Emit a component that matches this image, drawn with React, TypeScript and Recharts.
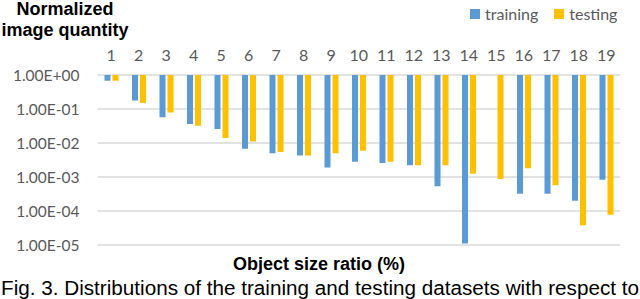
import React from 'react';
import { BarChart, Bar, XAxis, YAxis, CartesianGrid } from 'recharts';

const categories = ['1','2','3','4','5','6','7','8','9','10','11','12','13','14','15','16','17','18','19'];
const training: (number | null)[] = [0.68, 0.178, 0.057, 0.036, 0.026, 0.0068, 0.005, 0.0043, 0.0019, 0.0028, 0.0026, 0.0022, 0.00053, 0.000011, null, 0.00032, 0.00032, 0.0002, 0.00083];
const testing: (number | null)[] = [0.68, 0.15, 0.079, 0.032, 0.014, 0.011, 0.0054, 0.0043, 0.005, 0.0059, 0.0028, 0.0022, 0.0022, 0.00125, 0.00088, 0.0018, 0.00057, 0.000038, 0.000077];
const yTicks = [1, 0.1, 0.01, 0.001, 0.0001, 0.00001];
const seriesNames = ['training', 'testing'];

const TOP = 1;
const data = categories.map((c, i) => ({
  cat: c,
  training: training[i] == null ? null : [training[i], TOP],
  testing: testing[i] == null ? null : [testing[i], TOP],
}));

const fmt = (v: number) => {
  const e = Math.round(Math.log10(v));
  return `1.00E${e >= 0 ? '+' : '-'}${String(Math.abs(e)).padStart(2, '0')}`;
};

const BLUE = '#5B9BD5';
const GOLD = '#FFC000';
const GREY = '#595959';
const tickFont = 'Lato, "Open Sans", sans-serif';
const colors = [BLUE, GOLD];

export default function App() {
  return (
    <div style={{ position: 'absolute', left: 0, top: 0, width: 640, height: 299, background: '#fff', overflow: 'hidden' }}>
      <BarChart width={640} height={299} data={data} margin={{ top: 45, right: 20, left: 0, bottom: 54 }} barGap={2} barSize={6}>
        <CartesianGrid vertical={false} stroke="#D9D9D9" strokeWidth={1.3} />
        <XAxis dataKey="cat" orientation="top" height={30} axisLine={false} tickLine={false} tickSize={0} tickMargin={14}
          tick={{ fill: GREY, fontSize: 16, fontFamily: tickFont }} interval={0} />
        <YAxis scale="log" domain={[0.00001, 1]} ticks={yTicks} tickFormatter={fmt} width={97.5} axisLine={false} tickLine={false}
          tickSize={0} tickMargin={18} allowDataOverflow tick={{ fill: GREY, fontSize: 15.5, fontFamily: tickFont }} />
        <Bar dataKey="training" name="training" fill={BLUE} isAnimationActive={false} />
        <Bar dataKey="testing" name="testing" fill={GOLD} isAnimationActive={false} />
      </BarChart>
      <div style={{ position: 'absolute', top: 4, left: 470, display: 'flex', alignItems: 'center', fontFamily: tickFont, fontSize: 16, lineHeight: '20px', color: GREY, whiteSpace: 'nowrap' }}>
        {seriesNames.map((n, i) => (
          <React.Fragment key={n}>
            <span style={{ width: 10, height: 10, background: colors[i], display: 'inline-block', marginRight: 5 }} />
            <span style={{ marginRight: i === 0 ? 16 : 0 }}>{n}</span>
          </React.Fragment>
        ))}
      </div>
      <div style={{ position: 'absolute', left: 0, top: -1, width: 130, textAlign: 'center', fontFamily: '"Liberation Sans", Arial, sans-serif', fontWeight: 'bold', fontSize: 18, lineHeight: '21px', color: '#000' }}>
        Normalized<br />image quantity
      </div>
      <div style={{ position: 'absolute', left: 233, top: 254, fontFamily: '"Liberation Sans", Arial, sans-serif', fontWeight: 'bold', fontSize: 18, lineHeight: '21px', color: '#000', whiteSpace: 'nowrap' }}>
        Object size ratio (%)
      </div>
      <svg style={{ position: 'absolute', left: 0, top: 0 }} width={640} height={299}>
        <text x={1} y={295} fontFamily='"Liberation Sans", Arial, sans-serif' fontSize={19.5} fill="#000" textLength={638} lengthAdjust="spacingAndGlyphs">
          Fig. 3. Distributions of the training and testing datasets with respect to
        </text>
      </svg>
    </div>
  );
}
